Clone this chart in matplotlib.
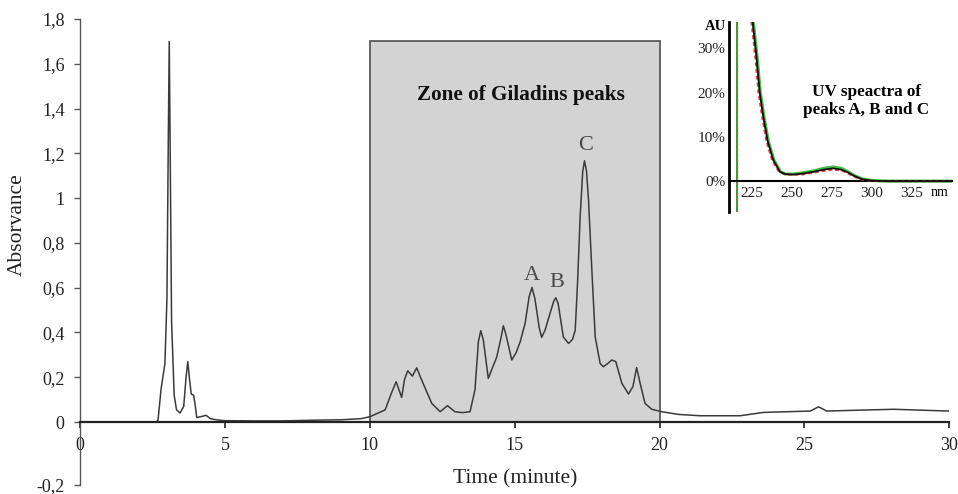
import matplotlib
matplotlib.use("Agg")
import matplotlib.pyplot as plt
from matplotlib.patches import Rectangle

plt.rcParams['font.family'] = ['Liberation Serif', 'DejaVu Serif']

# ---- main chromatogram (time in minutes, absorbance) ----
time_min = [0, 2.6, 2.69, 2.8, 2.93, 3.0, 3.05, 3.08, 3.11, 3.16, 3.25, 3.33, 3.45,
            3.58, 3.66, 3.72, 3.78, 3.84, 3.92, 3.97, 4.03, 4.2, 4.35, 4.5, 4.7, 5.0,
            6.0, 7.0, 8.0, 9.0, 9.7, 10.01, 10.53, 10.75, 10.91, 11.1, 11.2, 11.31,
            11.47, 11.62, 11.75, 11.89, 12.14, 12.43, 12.68, 12.94, 13.2, 13.46,
            13.63, 13.75, 13.83, 13.92, 14.09, 14.38, 14.52, 14.61, 14.7, 14.9, 15.05,
            15.19, 15.36, 15.5, 15.6, 15.7, 15.85, 15.93, 16.05, 16.22, 16.35, 16.42,
            16.5, 16.68, 16.86, 17.0, 17.09, 17.17, 17.26, 17.35, 17.41, 17.48, 17.55,
            17.66, 17.78, 17.95, 18.06, 18.2, 18.35, 18.49, 18.7, 18.93, 19.08, 19.21,
            19.33, 19.5, 19.73, 20.08, 20.65, 21.4, 22.78, 23.59, 25.2, 25.49, 25.77,
            28.08, 29.97]
absorbance = [0, 0, 0.005, 0.15, 0.26, 0.55, 1.30, 1.70, 1.25, 0.45, 0.12, 0.055, 0.04,
              0.07, 0.2, 0.27, 0.19, 0.125, 0.12, 0.08, 0.02, 0.025, 0.03, 0.015, 0.01,
              0.006, 0.005, 0.005, 0.008, 0.01, 0.015, 0.024, 0.054, 0.13, 0.18, 0.11,
              0.19, 0.229, 0.205, 0.242, 0.2, 0.158, 0.083, 0.046, 0.073, 0.046, 0.042,
              0.046, 0.143, 0.36, 0.408, 0.366, 0.195, 0.29, 0.37, 0.43, 0.39, 0.277,
              0.31, 0.358, 0.44, 0.56, 0.601, 0.55, 0.42, 0.378, 0.41, 0.485, 0.54,
              0.555, 0.53, 0.38, 0.351, 0.37, 0.41, 0.62, 0.917, 1.12, 1.167, 1.12,
              0.99, 0.69, 0.38, 0.262, 0.247, 0.26, 0.277, 0.27, 0.173, 0.125, 0.158,
              0.243, 0.173, 0.083, 0.057, 0.046, 0.034, 0.028, 0.028, 0.043, 0.049,
              0.068, 0.049, 0.057, 0.049]

x_ticks = [0, 5, 10, 15, 20, 25, 30]
# the reference draws its "-0,2" tick further below 0 than the regular 0.2 step
y_tick_pos = [-0.28125, 0, 0.2, 0.4, 0.6, 0.8, 1.0, 1.2, 1.4, 1.6, 1.8]
y_tick_labels = ["-0,2", "0", "0,2", "0,4", "0,6", "0,8", "1", "1,2", "1,4", "1,6", "1,8"]

zone_start, zone_end, zone_top = 10, 20, 1.7
zone_label = "Zone of Giladins peaks"

peak_labels = ["A", "B", "C"]
peak_label_t = [15.59, 16.45, 17.43]
peak_label_v = [0.655, 0.625, 1.235]

# ---- inset UV spectra (wavelength nm, AU %) ----
wl_black = [225.6, 228, 230, 232.3, 235, 238.5, 242.7, 246, 251, 257, 263.5, 270, 276,
            281, 284.4, 289, 293.75, 300, 310, 350]
au_black = [36, 28, 20, 14.5, 9, 4.75, 2.1, 1.6, 1.5, 1.7, 2.1, 2.6, 2.9, 2.6, 2.1,
            1.2, 0.45, 0.1, 0, 0]
wl_green = [226.0, 228.4, 230.4, 232.7, 235.4, 238.9, 243.0, 246, 251, 257, 263.5, 270,
            276, 281, 284.4, 289, 294.2, 300, 310, 350]
au_green = [36, 28, 20, 14.5, 9, 4.75, 2.1, 1.6, 1.6, 1.9, 2.3, 2.9, 3.2, 2.9, 2.3,
            1.3, 0.5, 0.15, 0, 0]
wl_red = [224.8, 227.2, 229.2, 231.5, 234.2, 237.7, 242.0, 246, 251, 257, 263.5, 270,
          276, 281, 284.4, 289, 293.5, 300, 310, 350]
au_red = [36, 28, 20, 14.5, 9, 4.75, 2.1, 1.5, 1.4, 1.5, 1.9, 2.3, 2.6, 2.4, 1.9,
          1.0, 0.35, 0.05, 0, 0]
uv_ticks = [225, 250, 275, 300, 325]
au_ticks = [0, 10, 20, 30]
au_tick_labels = ["0%", "10%", "20%", "30%"]
marker_wl = 216

W, H = 958, 494
fig = plt.figure(figsize=(W / 100, H / 100), dpi=100)

# main axes: x 0..30 at px 80..949, y spans py 485..19 (0 at py 422)
ax = fig.add_axes([80 / W, 1 - 485 / H, (949.3 - 80) / W, (485 - 19) / H])
ax.set_xlim(0, 30)
ax.set_ylim(y_tick_pos[0], 1.8)

ax.add_patch(Rectangle((zone_start, 0), zone_end - zone_start, zone_top,
                       facecolor='#d3d3d3', edgecolor='#5a5a5a', linewidth=1.3, zorder=1))
ax.plot(time_min, absorbance, color='#3a3a3a', linewidth=1.1, zorder=3,
        solid_joinstyle='round')

ax.text((zone_start + zone_end) / 2 + 0.2, 1.46, zone_label, ha='center', va='center',
        fontsize=15.3, fontweight='bold', color='#111111', zorder=4)
for lab, t, v in zip(peak_labels, peak_label_t, peak_label_v):
    ax.text(t, v, lab, ha='center', va='center', fontsize=16, color='#4a4a4a', zorder=4)

for s in ['top', 'right']:
    ax.spines[s].set_visible(False)
ax.spines['bottom'].set_position(('data', 0))
ax.spines['bottom'].set_linewidth(1.6)
ax.spines['bottom'].set_color('#222222')
ax.spines['left'].set_linewidth(1.0)
ax.spines['left'].set_color('#555555')
ax.spines['bottom'].set_zorder(5)

ax.set_xticks(x_ticks)
ax.set_xticklabels([str(v) for v in x_ticks])
ax.set_yticks(y_tick_pos)
ax.set_yticklabels(y_tick_labels)
ax.tick_params(axis='x', direction='out', length=4, width=1.2, pad=7, labelsize=13,
               colors='#222222')
ax.tick_params(axis='y', direction='out', length=4, width=1.0, pad=7, labelsize=13,
               color='#555555', labelcolor='#222222')

fig.text(17 / W, 1 - 225 / H, "Absorvance", rotation=90, ha='center', va='center',
         fontsize=15.5, color='#222222')
fig.text(515 / W, 1 - 479 / H, "Time (minute)", ha='center', va='center',
         fontsize=15.5, color='#222222')

# inset: x 211..350 at px 729.3..951.7, y -6.9..36 at py 211.7..21.7
ins = fig.add_axes([729.3 / W, 1 - 211.7 / H, (951.7 - 729.3) / W, (211.7 - 21.7) / H])
ins.set_xlim(211, 350)
ins.set_ylim(-6.9, 36)
ins.patch.set_alpha(0)
ins.axvline(marker_wl, color='#2e9e2e', linewidth=1.4, zorder=2)
ins.axvline(marker_wl, color='#e05050', linewidth=1.0, linestyle=(0, (2, 2)), zorder=3)
ins.plot(wl_green, au_green, color='#44c044', linewidth=2.2, zorder=2)
ins.plot(wl_red, au_red, color='#e84040', linewidth=1.4, linestyle=(0, (2, 1.5)), zorder=3)
ins.plot(wl_black, au_black, color='#111111', linewidth=1.3, zorder=4)
for s in ['top', 'right']:
    ins.spines[s].set_visible(False)
ins.spines['bottom'].set_position(('data', 0))
ins.spines['bottom'].set_linewidth(1.5)
ins.spines['left'].set_linewidth(2.0)
ins.set_xticks(uv_ticks)
ins.set_xticklabels([str(v) for v in uv_ticks])
ins.set_yticks(au_ticks)
ins.set_yticklabels(au_tick_labels)
ins.tick_params(axis='both', length=0, labelsize=11, colors='#222222')
ins.tick_params(axis='x', pad=4)
ins.tick_params(axis='y', pad=3)
ins.text(-0.015, 35, "AU", transform=ins.get_yaxis_transform(), ha='right', va='center',
         fontsize=10.5, fontweight='bold')
fig.text(940 / W, 1 - 192 / H, "nm", ha='center', va='center', fontsize=10)
fig.text(866 / W, 1 - 101 / H, "UV speactra of\npeaks A, B and C", ha='center',
         va='center', fontsize=12.3, fontweight='bold', linespacing=1.25)

fig.savefig("out.png", dpi=100)
